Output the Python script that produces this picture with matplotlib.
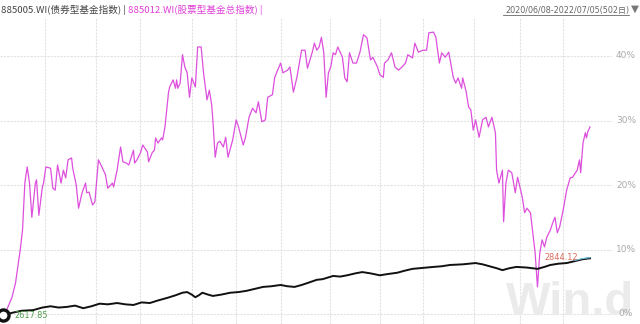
import matplotlib
matplotlib.use("Agg")
import matplotlib.pyplot as plt
from matplotlib import font_manager

plt.rcParams['font.family'] = ['Noto Sans CJK SC', 'DejaVu Sans']

# trading-day index (0..501) and % change since 2020/06/08
stock_idx = [0, 6, 9, 13, 15, 17, 19, 21, 23, 26, 27, 29, 32, 33, 35, 39, 41, 43, 45, 48,
             50, 52, 54, 57, 58, 61, 63, 66, 69, 70, 72, 75, 77, 80, 83, 86, 88, 92, 93, 96,
             99, 101, 104, 106, 110, 111, 113, 116, 118, 122, 123, 126, 128, 129, 131, 134, 135, 137, 140, 141,
             144, 146, 147, 148, 150, 152, 154, 156, 158, 160, 163, 165, 168, 170, 173, 175, 177, 178, 180, 182,
             184, 187, 189, 191, 195, 198, 200, 204, 206, 209, 212, 215, 217, 220, 223, 225, 229, 231, 236, 238,
             242, 244, 247, 250, 254, 257, 259, 263, 265, 267, 269, 271, 273, 275, 277, 279, 281, 283, 285, 289,
             291, 293, 295, 298, 301, 304, 307, 310, 313, 315, 319, 321, 324, 325, 328, 331, 334, 337, 340, 343,
             345, 349, 351, 354, 358, 361, 363, 367, 369, 372, 374, 377, 380, 384, 386, 388, 391, 392, 395, 397,
             399, 401, 403, 406, 409, 412, 414, 417, 420, 421, 423, 426, 427, 429, 431, 434, 437, 439, 443, 445,
             447, 450, 452, 454, 456, 458, 460, 462, 464, 467, 469, 471, 473, 475, 478, 481, 484, 486, 490, 492,
             493, 495, 497, 498, 499, 501]
stock_pct = [0.0, 2.6, 4.8, 9.9, 13.0, 20.3, 22.8, 20.3, 15.0, 20.3, 20.8, 15.3, 19.7, 20.3, 22.8, 22.6, 19.5, 19.2, 23.1, 20.3,
             22.3, 21.1, 23.9, 24.2, 22.6, 20.0, 16.4, 18.8, 20.3, 18.8, 18.9, 16.9, 17.4, 23.9, 22.8, 21.6, 19.5, 20.3, 19.7, 22.3,
             25.9, 23.6, 23.4, 23.1, 25.4, 23.4, 23.9, 25.0, 26.2, 25.1, 23.6, 25.0, 25.4, 27.3, 26.5, 27.3, 27.0, 29.0, 34.3, 35.2,
             36.3, 35.0, 36.3, 35.0, 35.8, 40.2, 38.3, 37.4, 33.6, 36.6, 35.2, 41.4, 41.4, 37.4, 33.2, 34.7, 32.4, 30.1, 24.3, 26.5,
             26.8, 25.9, 27.4, 24.3, 27.0, 30.1, 29.0, 26.2, 27.4, 30.5, 31.9, 31.2, 32.9, 29.8, 30.1, 33.6, 34.0, 36.7, 38.9, 37.4,
             37.8, 38.3, 34.4, 36.7, 40.9, 40.9, 38.1, 40.5, 42.0, 40.9, 41.4, 42.9, 40.5, 33.6, 37.4, 38.3, 40.5, 40.2, 41.4, 39.8,
             36.6, 36.0, 40.5, 38.9, 38.9, 40.6, 43.3, 42.8, 39.4, 39.8, 38.3, 37.1, 36.7, 38.9, 39.4, 40.5, 38.3, 37.8, 38.3, 38.9,
             40.2, 39.7, 42.0, 40.6, 40.9, 40.9, 43.6, 43.7, 42.9, 38.9, 40.5, 39.8, 40.6, 36.6, 35.8, 36.6, 35.0, 36.6, 34.4, 32.1,
             31.6, 28.5, 30.1, 27.4, 30.1, 30.5, 29.0, 30.5, 28.1, 22.3, 20.3, 22.3, 14.3, 20.3, 22.3, 21.9, 18.8, 21.2, 18.1, 15.7,
             16.4, 15.7, 12.6, 9.5, 4.2, 9.5, 11.5, 10.4, 11.9, 13.0, 14.1, 15.0, 12.6, 13.5, 16.1, 19.2, 21.1, 21.2, 22.3, 23.9,
             21.9, 26.5, 28.1, 27.3, 28.2, 29.0]

bond_idx = [0, 4, 14, 24, 32, 39, 46, 53, 60, 67, 74, 81, 88, 96, 103, 110, 117, 124, 131, 139,
            146, 152, 156, 160, 163, 166, 169, 174, 178, 185, 193, 200, 207, 214, 221, 228, 236, 242, 248, 254,
            259, 267, 272, 281, 287, 293, 300, 306, 313, 321, 328, 336, 342, 349, 355, 361, 367, 374, 381, 392,
            403, 409, 415, 421, 426, 432, 438, 447, 456, 462, 467, 474, 481, 488, 495, 501]
bond_pct = [0.0, 0.1, 0.5, 0.6, 1.0, 1.2, 1.0, 1.1, 1.3, 0.9, 1.2, 1.6, 1.5, 1.7, 1.5, 1.4, 1.8, 1.7, 2.1, 2.5,
            2.9, 3.3, 3.4, 3.0, 2.6, 2.9, 3.3, 3.0, 2.8, 3.0, 3.3, 3.4, 3.6, 3.9, 4.2, 4.3, 4.5, 4.3, 4.2, 4.5,
            4.8, 5.3, 5.4, 5.9, 5.8, 6.0, 6.3, 6.5, 6.3, 6.0, 6.2, 6.4, 6.7, 7.0, 7.1, 7.2, 7.3, 7.4, 7.6, 7.7,
            7.9, 7.7, 7.4, 7.1, 6.8, 7.1, 7.3, 7.2, 7.0, 7.3, 7.6, 7.8, 7.9, 8.2, 8.5, 8.64]

bond_start_value = "2617.85"
bond_end_value = "2844.12"
y_ticks = [0, 10, 20, 30, 40]
y_tick_labels = ["0%", "10%", "20%", "30%", "40%"]
x_grid_idx = [34, 78, 116, 160, 198, 236, 278, 321, 358, 402, 441, 478]

title_bond = "885005.WI(债券型基金指数) | "
title_stock = "885012.WI(股票型基金总指数) |"
date_range = "2020/06/08-2022/07/05(502日)"

W, H = 640, 324
fig = plt.figure(figsize=(W / 100, H / 100), dpi=100)
fig.patch.set_facecolor("white")

ax_left, ax_right, ax_top, ax_bottom = 0, 612, 17, 324
ax = fig.add_axes([ax_left / W, 1 - ax_bottom / H, (ax_right - ax_left) / W, (ax_bottom - ax_top) / H])
ax.set_facecolor("none")
for s in ax.spines.values():
    s.set_visible(False)

# scale: 0% at px 314, 6.45 px per %
ax.set_ylim((314 - 324) / 6.45, (314 - 17) / 6.45)
ax.set_xlim(-5 * 0.8564, 607 * 0.8564)
ax.set_xticks([])
ax.set_yticks([])

grid_kw = dict(color="#E2E2E2", lw=0.8, ls=(0, (2, 1)), zorder=0)
for t in y_ticks:
    ax.axhline(t, **grid_kw)
for xi in x_grid_idx:
    ax.axvline(xi, **grid_kw)

# watermark
names = {f.name for f in font_manager.fontManager.ttflist}
wm_family = ["Liberation Sans Narrow", "Liberation Sans"] if "Liberation Sans Narrow" in names else ["Liberation Sans"]
wm_size = 40 if "Liberation Sans Narrow" in names else 34
fig.text(506 / W, 1 - 315 / H, "Win.d", fontsize=wm_size, fontweight="bold",
         family=wm_family, color="#EBEBEB", ha="left", va="baseline", zorder=0)

ax.plot(stock_idx, stock_pct, color="#DD4FDD", lw=0.9, zorder=2)
ax.plot(bond_idx, bond_pct, color="#111111", lw=1.4, zorder=3)
ax.plot(bond_idx[-3:], [v + 0.1 for v in bond_pct[-3:]], color="#6FC0DF", lw=0.8, zorder=4)

# start marker
ax.plot([bond_idx[0] - 2], [bond_pct[0] - 0.1], marker="o", ms=8, mfc="white", mec="#111111", mew=2.4,
        zorder=5, clip_on=False)

ax.text(bond_idx[0] + 8, bond_pct[0] - 0.2, bond_start_value, color="#4C9F4C", fontsize=5.9,
        ha="left", va="center", zorder=6, family=["DejaVu Sans"])
ax.text(476, 8.7, bond_end_value, color="#D9675A", fontsize=5.9,
        ha="center", va="center", zorder=6, family=["DejaVu Sans"])

for t, lab in zip(y_ticks, y_tick_labels):
    fig.text(626 / W, 1 - (314 - t * 6.45) / H, lab, color="#AAAAAA", fontsize=6.5,
             ha="center", va="center", family=["DejaVu Sans"])

# titles
t1 = fig.text(1 / W, 1 - 10 / H, title_bond, color="#444444", fontsize=6.9, ha="left", va="center")
fig.canvas.draw()
bb = t1.get_window_extent()
fig.text(bb.x1 / W, 1 - 10 / H, title_stock, color="#E040D8", fontsize=6.9, ha="left", va="center")

fig.text(629 / W, 1 - 10 / H, date_range, color="#666666", fontsize=5.8, ha="right", va="center",
         family=["DejaVu Sans", "Noto Sans CJK SC"])
fig.text(635 / W, 1 - 9 / H, "▼", color="#777777", fontsize=7.5, ha="center", va="center",
         family=["DejaVu Sans"])
ax_line_y = 1 - 15 / H
fig.add_artist(plt.Line2D([503 / W, 629 / W], [ax_line_y, ax_line_y], color="#666666", lw=0.6))

fig.savefig("out.png", dpi=100, facecolor="white")
